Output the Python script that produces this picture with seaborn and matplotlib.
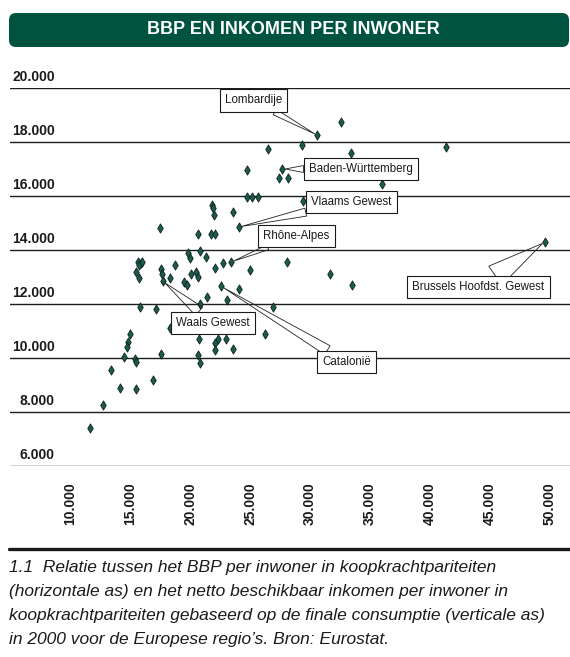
import numpy as np
import pandas as pd
import seaborn as sns
import matplotlib.pyplot as plt
from matplotlib.patches import FancyBboxPatch
from matplotlib.lines import Line2D
from matplotlib.transforms import IdentityTransform

sns.set_style("white")
plt.rcParams['font.family'] = ['Liberation Sans', 'DejaVu Sans']

# BBP per inwoner (x) en netto beschikbaar inkomen per inwoner (y), KKP, 2000
gdp = [26450, 24700, 27700, 27450, 28200, 24700, 25150, 25650, 21850, 21900, 22000,
       23600, 24050, 17450, 20650, 21700, 22100, 19800, 20850, 21300, 20000,
       30600, 32550, 29350, 41350, 33450, 36050, 29400, 49600,
       15650, 15850, 15700, 15950, 15500, 15700, 17550, 17600, 17700, 18300, 18750,
       20100, 20450, 20650, 19500, 19750, 22100, 22700, 23400, 25000, 28050, 22600,
       24050, 21400, 23050, 20850, 15800, 17100, 26950,
       18300, 14950, 14800, 14750, 20750, 22350, 23000, 22050, 22050, 23550, 26200,
       17550, 20650, 14500, 15400, 15450, 20850, 13350, 14100, 15450, 16850, 12750, 11650,
       31700, 33500]
income = [17750, 16950, 17000, 16650, 16650, 15950, 15950, 15950, 15650, 15550, 15300,
          15400, 14850, 14800, 14600, 14600, 14600, 13900, 13950, 13750, 13700,
          18250, 18750, 17900, 17800, 17600, 16450, 15800, 14300,
          13550, 13500, 13450, 13550, 13200, 12950, 13300, 13100, 12850, 12950, 13450,
          13100, 13200, 13000, 12800, 12700, 13350, 13500, 13550, 13250, 13550, 12650,
          12550, 12250, 12150, 12000, 11900, 11800, 11900,
          11100, 10900, 10600, 10400, 10700, 10700, 10700, 10550, 10300, 10350, 10900,
          10150, 10100, 10050, 9950, 9850, 9800, 9550, 8900, 8850, 9200, 8250, 7400,
          13100, 12700]

regions = ['Lombardije', 'Baden-Württemberg', 'Vlaams Gewest', 'Rhône-Alpes',
           'Brussels Hoofdst. Gewest', 'Waals Gewest', 'Catalonië']
region_gdp = [30600, 27700, 24050, 23400, 49600, 17700, 22600]
region_income = [18250, 17000, 14850, 13550, 14300, 12850, 12650]
# label box centres (layout)
label_x = [25280, 34260, 33460, 28850, 44050, 21900, 33060]
label_y = [19540, 17000, 15780, 14530, 12620, 11300, 9860]
wedge_w = [0.55, 0.6, 0.7, 0.45, 2.0, 0.95, 0.9]

yticks = [6000, 8000, 10000, 12000, 14000, 16000, 18000, 20000]
xticks = [10000, 15000, 20000, 25000, 30000, 35000, 40000, 45000, 50000]

def fmt(v):
    return f"{v:,.0f}".replace(",", ".")

df = pd.DataFrame({'bbp': gdp, 'inkomen': income})

W, H = 570, 657
fig = plt.figure(figsize=(W / 100, H / 100), dpi=100)
ax = fig.add_axes([10 / W, (H - 466) / H, 560 / W, (466 - 88) / H])

for y in yticks:
    ax.axhline(y, color='#1e1e1e', lw=1.0, zorder=1)
    ax.annotate(fmt(y), xy=((55 - 10) / 560, y), xycoords=('axes fraction', 'data'),
                xytext=(0, 3), textcoords='offset points', ha='right', va='bottom',
                fontsize=10, fontweight='bold', color='#1a1a1a')

sns.scatterplot(data=df, x='bbp', y='inkomen', marker='d', s=22, color='#1d5a4e',
                edgecolor='#0a221d', linewidth=0.6, ax=ax, zorder=3, legend=False)

for name, px, py, tx, ty, w in zip(regions, region_gdp, region_income, label_x, label_y, wedge_w):
    ax.annotate(name, xy=(px, py), xytext=(tx, ty), ha='center', va='center',
                fontsize=8.3, color='#1a1a1a', zorder=5,
                bbox=dict(boxstyle='square,pad=0.45', fc='white', ec='#1a1a1a', lw=0.8),
                arrowprops=dict(arrowstyle=f'wedge,tail_width={w},shrink_factor=0.5',
                                fc='none', ec='#222222', lw=0.6, shrinkA=0, shrinkB=2))

ax.set_xlim(4948, 51708)
ax.set_ylim(6000, 20000)
ax.set_xticks(xticks)
ax.set_xticklabels([fmt(v) for v in xticks], rotation=90, fontsize=10,
                   fontweight='bold', color='#1a1a1a')
ax.tick_params(axis='x', length=0, pad=12)
ax.set_yticks([])
ax.set_xlabel('')
ax.set_ylabel('')
sns.despine(ax=ax, left=True, bottom=True)

# title banner
fig.add_artist(FancyBboxPatch((9, H - 47), 560, 34,
                              boxstyle='round,pad=0,rounding_size=7',
                              transform=IdentityTransform(), fc='#00533e', ec='none'))
fig.text(293 / W, 1 - 30 / H, 'BBP EN INKOMEN PER INWONER', ha='center', va='center',
         color='white', fontsize=13, fontweight='bold')

fig.add_artist(Line2D([9 / W, 1], [1 - 549 / H, 1 - 549 / H], transform=fig.transFigure,
                      color='#1a1a1a', lw=2.4))
caption = ("1.1  Relatie tussen het BBP per inwoner in koopkrachtpariteiten\n"
           "(horizontale as) en het netto beschikbaar inkomen per inwoner in\n"
           "koopkrachtpariteiten gebaseerd op de finale consumptie (verticale as)\n"
           "in 2000 voor de Europese regio’s. Bron: Eurostat.")
fig.text(9 / W, 1 - 560 / H, caption, ha='left', va='top', fontsize=12.5,
         style='italic', color='#1a1a1a', linespacing=1.75)

fig.savefig('out.png', dpi=100)
